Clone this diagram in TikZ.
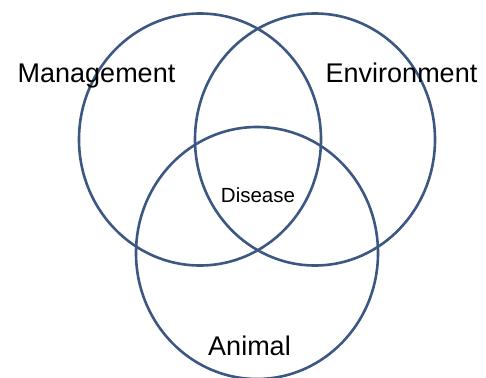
\documentclass[tikz,border=0pt]{standalone}
\usepackage{fontspec}
\setmainfont{Liberation Sans}
\definecolor{ringblue}{RGB}{60,88,130}
\begin{document}
\begin{tikzpicture}[x=1pt,y=-1pt,
  ring/.style={draw=ringblue,line width=2.6pt},
  biglabel/.style={anchor=base,inner sep=0pt,font=\fontsize{27}{30}\selectfont},
  smalllabel/.style={anchor=base,inner sep=0pt,font=\fontsize{20.5}{24}\selectfont}]
\useasboundingbox[fill=white] (0,0) rectangle (486,377);
\draw[ring] (200,139.5) ellipse [x radius=121, y radius=126];
\draw[ring] (315,139.5) ellipse [x radius=120, y radius=126];
\draw[ring] (257,253) ellipse [x radius=121, y radius=126];
\node[biglabel] (mgmt) at (96.5,82) {Management};
\node[biglabel] (env) at (401.5,82) {Environment};
\node[biglabel] (anim) at (249.5,355) {Animal};
\node[smalllabel] (dis) at (258,202) {Disease};
\end{tikzpicture}
\end{document}
